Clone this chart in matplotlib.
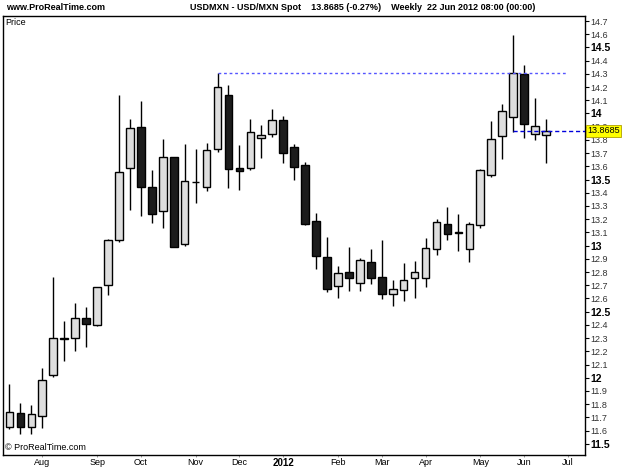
import matplotlib
matplotlib.use("Agg")
import matplotlib.pyplot as plt
import numpy as np

plt.rcParams['font.family'] = ['Liberation Sans', 'DejaVu Sans']

# weekly USD/MXN candles, Jul 2011 - Jun 2012
opens = [11.63, 11.73, 11.63, 11.71, 12.02, 12.29, 12.30, 12.45, 12.40, 12.70,
         13.04, 13.59, 13.90, 13.44, 13.26, 13.67, 13.01, 13.485, 13.44, 13.73,
         14.14, 13.588, 13.59, 13.817, 13.845, 13.95, 13.745, 13.608, 13.19, 12.913,
         12.695, 12.80, 12.716, 12.875, 12.764, 12.633, 12.663, 12.758, 12.758, 12.975,
         13.162, 13.10, 12.975, 13.155, 13.533, 13.828, 13.972, 14.30, 13.845, 13.835]
closes = [11.74, 11.63, 11.725, 11.984, 12.304, 12.30, 12.453, 12.403, 12.686, 13.043,
          13.558, 13.888, 13.442, 13.238, 13.669, 12.993, 13.487, 13.48, 13.724, 14.198,
          13.58, 13.568, 13.86, 13.84, 13.949, 13.699, 13.593, 13.164, 12.922, 12.675,
          12.792, 12.754, 12.894, 12.754, 12.635, 12.67, 12.739, 12.799, 12.983, 13.177,
          13.089, 13.099, 13.162, 13.575, 13.805, 14.017, 14.304, 13.919, 13.906, 13.8685]
highs = [11.95, 11.81, 11.795, 12.07, 12.761, 12.433, 12.569, 12.539, 12.69, 13.048,
         14.14, 13.956, 14.097, 13.573, 13.807, 13.672, 13.77, 13.732, 13.775, 14.309,
         14.216, 13.76, 13.959, 13.913, 14.034, 13.984, 13.767, 13.631, 13.25, 13.068,
         12.847, 12.993, 12.907, 12.973, 13.043, 12.736, 12.872, 12.885, 13.059, 13.20,
         13.293, 13.242, 13.182, 13.58, 13.944, 14.072, 14.594, 14.365, 14.115, 13.959]
lows = [11.612, 11.576, 11.576, 11.619, 12.002, 12.13, 12.206, 12.232, 12.388, 12.627,
        13.03, 13.27, 13.225, 13.17, 13.136, 12.988, 13.0, 13.326, 13.416, 13.707,
        13.434, 13.422, 13.573, 13.666, 13.825, 13.624, 13.497, 13.159, 12.824, 12.652,
        12.602, 12.658, 12.658, 12.708, 12.595, 12.544, 12.577, 12.607, 12.683, 12.93,
        13.043, 12.96, 12.875, 13.132, 13.52, 13.654, 13.858, 13.817, 13.80, 13.628]

month_idx = [3, 8, 12, 17, 21, 25, 30, 34, 38, 43, 47, 51]
month_labels = ['Aug', 'Sep', 'Oct', 'Nov', 'Dec', '2012', 'Feb', 'Mar', 'Apr', 'May', 'Jun', 'Jul']

last_price = 13.8685
resistance = 14.309
resistance_from = 19
price_line_from = 46

fig = plt.figure(figsize=(6.25, 4.69), dpi=100)
ax = fig.add_axes([3 / 625, 1 - 455 / 469, 582 / 625, 439 / 469])

x = np.arange(len(opens))
o = np.array(opens)
c = np.array(closes)
up = c >= o
body_lo = np.minimum(o, c)
body_h = np.maximum(np.abs(c - o), 0.004)

ax.vlines(x, lows, highs, color='black', linewidth=1, zorder=2)
ax.bar(x[up], body_h[up], bottom=body_lo[up], width=0.7, color='#dedede',
       edgecolor='black', linewidth=1, zorder=3)
ax.bar(x[~up], body_h[~up], bottom=body_lo[~up], width=0.7, color='#1c1c1c',
       edgecolor='black', linewidth=1, zorder=3)

# horizontal lines
ax.hlines(resistance, resistance_from, 50.9, color='#5555ff', linewidth=1,
          linestyle=(0, (2, 2)), zorder=4)
ax.hlines(last_price, price_line_from, 53, color='#0000dd', linewidth=1,
          linestyle=(0, (3, 2)), zorder=4)

ax.set_xlim(-0.59, 52.56)
ax.set_ylim(11.415, 14.738)

# right price axis
yt = np.round(np.arange(11.5, 14.71, 0.1), 1)
ax.yaxis.tick_right()
ax.set_yticks(yt)
ax.set_yticklabels(['%g' % v for v in yt])
for lab, v in zip(ax.get_yticklabels(), yt):
    if abs(v * 2 - round(v * 2)) < 1e-6:
        lab.set_fontweight('bold')
        lab.set_fontsize(7.5)
    else:
        lab.set_fontsize(6.5)
        lab.set_color('#333333')
ax.tick_params(axis='y', direction='out', length=3, width=0.8, pad=1)

ax.set_xticks(month_idx)
ax.set_xticklabels(month_labels)
for lab, t in zip(ax.get_xticklabels(), month_labels):
    if t == '2012':
        lab.set_fontweight('bold')
        lab.set_fontsize(7)
    else:
        lab.set_fontsize(6.5)
ax.tick_params(axis='x', direction='out', length=1.5, width=0.6, pad=0.5, color='#888888')

for s in ax.spines.values():
    s.set_linewidth(1)
    s.set_color('black')

# last price tag
ax.text(52.75, last_price, '%.4f' % last_price, fontsize=6.5, va='center', ha='left',
        clip_on=False, zorder=10,
        bbox=dict(boxstyle='square,pad=0.15', facecolor='#ffff00', edgecolor='#b0a000', linewidth=0.6))

ax.text(0.004, 0.995, 'Price', transform=ax.transAxes, fontsize=6.5, va='top', ha='left')
ax.text(0.004, 0.006, '\u00a9 ProRealTime.com', transform=ax.transAxes, fontsize=6.5,
        va='bottom', ha='left')

fig.text(6 / 625, 1 - 8 / 469, 'www.ProRealTime.com', fontsize=6.5, fontweight='bold',
         va='center', ha='left')
fig.text(190 / 625, 1 - 8 / 469,
         'USDMXN - USD/MXN Spot    13.8685 (-0.27%)    Weekly  22 Jun 2012 08:00 (00:00)',
         fontsize=6.5, fontweight='bold', va='center', ha='left')

fig.savefig('out.png', dpi=100, facecolor='white')
